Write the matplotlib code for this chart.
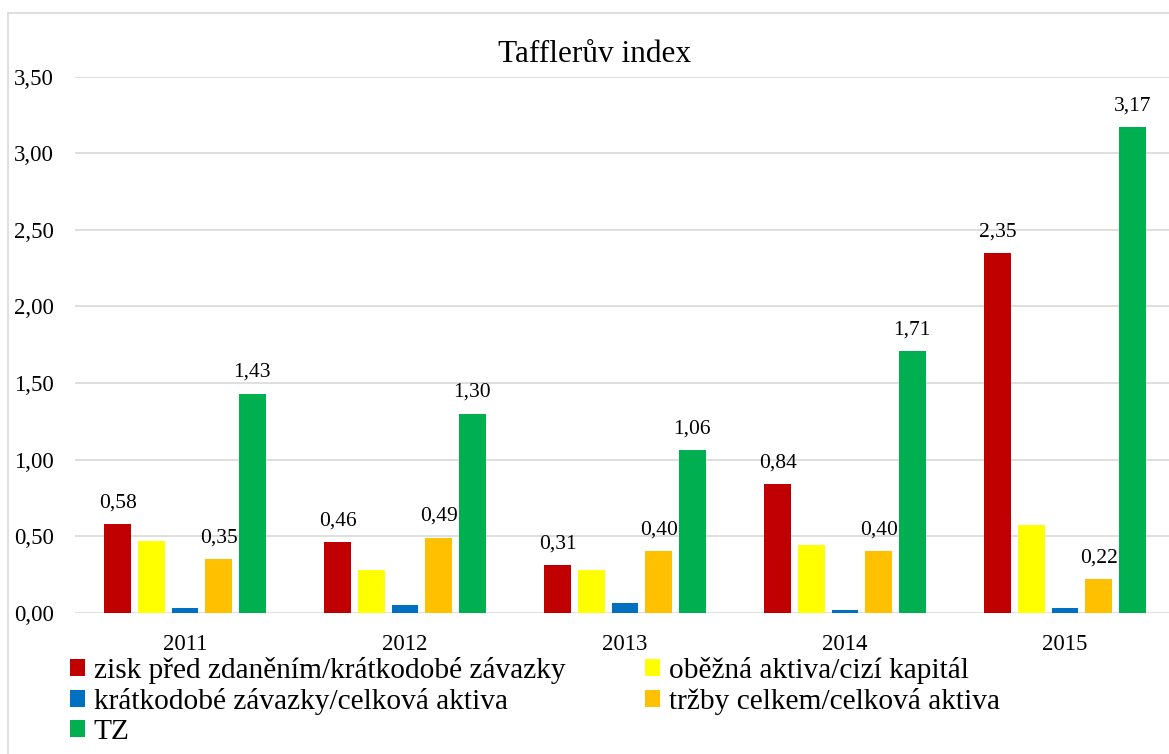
import matplotlib
matplotlib.use("Agg")
import matplotlib.pyplot as plt
from matplotlib.patches import Rectangle, Patch
import numpy as np

plt.rcParams['font.family'] = ['Liberation Serif', 'DejaVu Serif']

years = ["2011", "2012", "2013", "2014", "2015"]
series_names = [
    "zisk před zdaněním/krátkodobé závazky",
    "oběžná aktiva/cizí kapitál",
    "krátkodobé závazky/celková aktiva",
    "tržby celkem/celková aktiva",
    "TZ",
]
zisk = [0.58, 0.46, 0.31, 0.84, 2.35]
obezna = [0.47, 0.28, 0.28, 0.44, 0.57]
kratkodobe = [0.03, 0.05, 0.065, 0.02, 0.03]
trzby = [0.35, 0.49, 0.40, 0.40, 0.22]
tz = [1.43, 1.30, 1.06, 1.71, 3.17]
series = [zisk, obezna, kratkodobe, trzby, tz]
colors = ["#C00000", "#FFFF00", "#0070C0", "#FFC000", "#00B050"]
show_labels = [True, False, False, True, True]
yticks = [0.0, 0.5, 1.0, 1.5, 2.0, 2.5, 3.0, 3.5]

W, H = 1169, 754
fig = plt.figure(figsize=(W / 100, H / 100), dpi=100)
fig.patch.set_facecolor("white")

# outer chart border
fig.patches.append(Rectangle((8 / W, -0.2), 2.0, 1 - 13 / H + 0.2, transform=fig.transFigure,
                             fill=False, edgecolor="#D9D9D9", linewidth=1.2))

ax = fig.add_axes([75 / W, (H - 612.7) / H, 1100 / W, (612.7 - 76.7) / H])
ax.set_xlim(-0.5, 4.5)
ax.set_ylim(0, 3.5)

x = np.arange(len(years))
step = 0.153
width = 0.12
for i, (vals, col, lab) in enumerate(zip(series, colors, show_labels)):
    pos = x + (i - 2) * step
    ax.bar(pos, vals, width=width, color=col, edgecolor="none", zorder=3)
    if lab:
        for p, v in zip(pos, vals):
            ax.annotate(f"{v:.2f}".replace(".", ","), (p, v), xytext=(0, 12),
                        textcoords="offset points", ha="center", va="baseline",
                        fontsize=15.5, color="#000000")

ax.set_yticks(yticks)
ax.set_yticklabels([f"{t:.2f}".replace(".", ",") for t in yticks], fontsize=16.5)
ax.set_xticks(x)
ax.set_xticklabels(years, fontsize=16.5)
ax.tick_params(axis="both", length=0)
ax.tick_params(axis="y", pad=15)
ax.tick_params(axis="x", pad=15)
ax.grid(axis="y", color="#D9D9D9", linewidth=1.2, zorder=0)
for s in ax.spines.values():
    s.set_visible(False)
ax.set_facecolor("none")

fig.text(594 / W, 1 - 55 / H, "Tafflerův index", fontsize=22.5, ha="center", va="center")

handles = [Patch(facecolor=c, edgecolor="none") for c in colors]
leg_kw = dict(frameon=False, fontsize=21.2, handlelength=0.5, handleheight=0.5,
              handletextpad=0.3, labelspacing=0.14, borderpad=0, borderaxespad=0,
              loc="upper left")
leg1 = fig.legend([handles[0], handles[2], handles[4]],
                  [series_names[0], series_names[2], series_names[4]],
                  bbox_to_anchor=(70 / W, 1 - 657 / H), **leg_kw)
leg2 = fig.legend([handles[1], handles[3]], [series_names[1], series_names[3]],
                  bbox_to_anchor=(645 / W, 1 - 657 / H), **leg_kw)

fig.savefig("out.png", dpi=100)
